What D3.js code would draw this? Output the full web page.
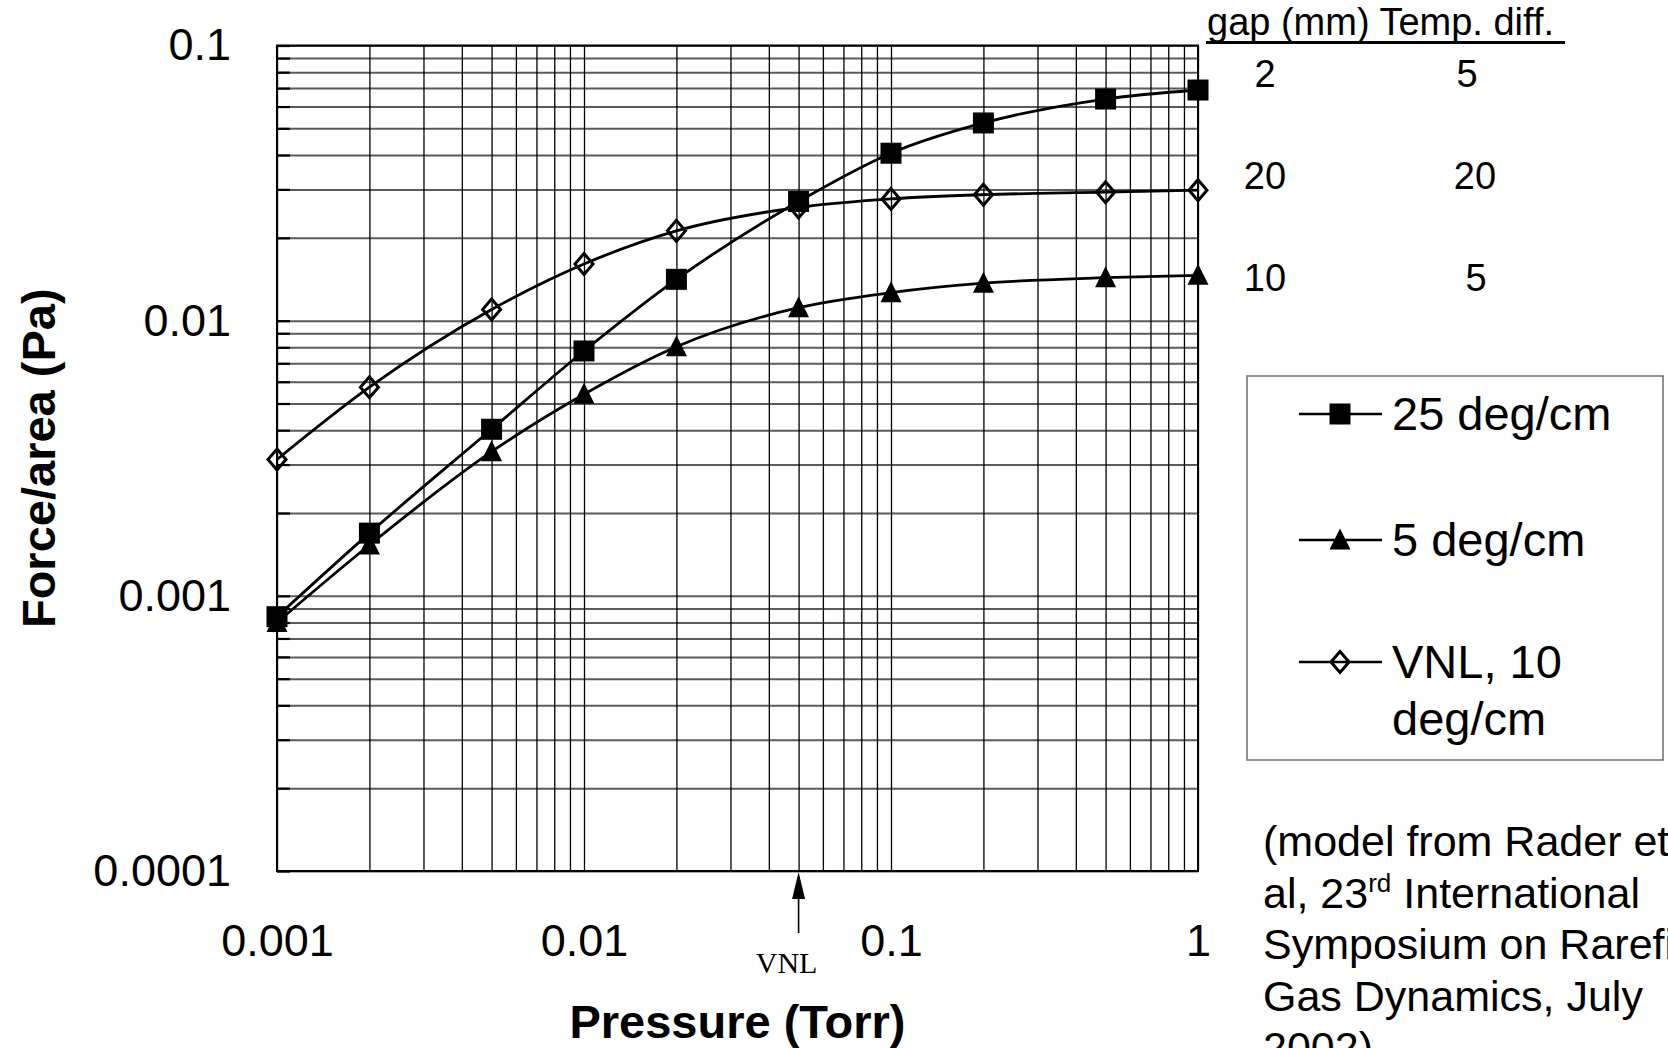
<!DOCTYPE html>
<html>
<head>
<meta charset="utf-8">
<script src="https://cdn.jsdelivr.net/npm/d3@7"></script>
<style>
  html, body { margin: 0; padding: 0; background: #fff; }
  svg { display: block; font-family: "Liberation Sans", Arial, sans-serif; }
</style>
</head>
<body>
<svg id="chart" width="1668" height="1048"></svg>
<script>
// data
var pressures = [0.001, 0.002, 0.005, 0.01, 0.02, 0.05, 0.1, 0.2, 0.5, 1];
var force25 = [0.00084, 0.00169, 0.00403, 0.00776, 0.01413, 0.0271, 0.0406, 0.0523, 0.0639, 0.0689];
var force5 = [0.00080, 0.00153, 0.00334, 0.00540, 0.00804, 0.01115, 0.01264, 0.01368, 0.01433, 0.01462];
var forceVNL = [0.00313, 0.00573, 0.01098, 0.01607, 0.0212, 0.0258, 0.0277, 0.0287, 0.0293, 0.0298];
var seriesNames = ['25 deg/cm', '5 deg/cm', 'VNL, 10|deg/cm'];
var seriesShapes = ['square', 'triangle', 'diamond'];
var xTicks = [0.001, 0.01, 0.1, 1];
var yTicks = [0.0001, 0.001, 0.01, 0.1];
var vnlPressure = 0.05;
var tableHeader = 'gap (mm) Temp. diff.';
var tableGap = ['2', '20', '10'];
var tableTemp = ['5', '20', '5'];
var noteLines = ['(model from Rader et', 'al, 23|rd| International', 'Symposium on Rarefied', 'Gas Dynamics, July', '2002)'];

var svg = d3.select('#chart');
var pLeft = 277, pRight = 1198, pTop = 45.5, pBottom = 871;

var x = d3.scaleLog().domain([0.001, 1]).range([pLeft, pRight]);
var y = d3.scaleLog().domain([0.0001, 0.1]).range([pBottom, pTop]);

// minor values 1..9 per decade
function minors(lo, hi) {
  var out = [];
  for (var e = lo; e < hi; e++) {
    for (var m = 1; m <= 9; m++) out.push(+(m * Math.pow(10, e)).toPrecision(3));
  }
  out.push(+Math.pow(10, hi).toPrecision(3));
  return out;
}

// horizontal grid
svg.append('g')
  .attr('transform', 'translate(' + pLeft + ',0)')
  .call(d3.axisLeft(y).tickValues(minors(-4, -1)).tickSize(-(pRight - pLeft)).tickFormat(''))
  .call(function(g) {
    g.select('.domain').remove();
    g.selectAll('line').attr('stroke', '#5a5a5a').attr('stroke-width', 2);
  });

// vertical grid
svg.append('g')
  .attr('transform', 'translate(0,' + pBottom + ')')
  .call(d3.axisBottom(x).tickValues(minors(-3, 0)).tickSize(-(pBottom - pTop)).tickFormat(''))
  .call(function(g) {
    g.select('.domain').remove();
    g.selectAll('line').attr('stroke', '#000').attr('stroke-width', 1.3);
  });

// small inside tick stubs on the left
svg.append('g')
  .attr('transform', 'translate(' + pLeft + ',0)')
  .call(d3.axisLeft(y).tickValues(minors(-4, -1)).tickSize(-13).tickFormat(''))
  .call(function(g) {
    g.select('.domain').remove();
    g.selectAll('line').attr('stroke', '#000').attr('stroke-width', 2.2);
  });

// frame
svg.append('rect')
  .attr('x', pLeft).attr('y', pTop)
  .attr('width', pRight - pLeft).attr('height', pBottom - pTop)
  .attr('fill', 'none').attr('stroke', '#000').attr('stroke-width', 2);

// tick labels
svg.append('g')
  .attr('transform', 'translate(' + pLeft + ',0)')
  .call(d3.axisLeft(y).tickValues(yTicks).tickSize(0).tickPadding(46).tickFormat(function(d) { return String(d); }))
  .call(function(g) {
    g.select('.domain').remove();
    g.selectAll('text').attr('font-size', 45).attr('fill', '#000').attr('font-family', '"Liberation Sans", Arial, sans-serif');
  });

svg.append('g')
  .attr('transform', 'translate(0,' + pBottom + ')')
  .call(d3.axisBottom(x).tickValues(xTicks).tickSize(0).tickPadding(53).tickFormat(function(d) { return String(d); }))
  .call(function(g) {
    g.select('.domain').remove();
    g.selectAll('text').attr('font-size', 45).attr('fill', '#000').attr('font-family', '"Liberation Sans", Arial, sans-serif');
  });

// axis titles
svg.append('text')
  .attr('x', (pLeft + pRight) / 2).attr('y', 1038)
  .attr('text-anchor', 'middle').attr('font-size', 47).attr('font-weight', 'bold')
  .text('Pressure (Torr)');

svg.append('text')
  .attr('transform', 'translate(55,' + ((pTop + pBottom) / 2) + ') rotate(-90)')
  .attr('text-anchor', 'middle').attr('font-size', 47).attr('font-weight', 'bold')
  .text('Force/area (Pa)');

// series
var allSeries = [force25, force5, forceVNL];
var line = d3.line()
  .x(function(d, i) { return x(pressures[i]); })
  .y(function(d) { return y(d); })
  .curve(d3.curveMonotoneX);

function drawMarker(g, shape, cx, cy) {
  if (shape === 'square') {
    g.append('rect').attr('x', cx - 10.5).attr('y', cy - 10.5).attr('width', 21).attr('height', 21).attr('fill', '#000');
  } else if (shape === 'triangle') {
    g.append('path').attr('d', 'M' + cx + ',' + (cy - 11.5) + 'L' + (cx + 10.5) + ',' + (cy + 9.5) + 'L' + (cx - 10.5) + ',' + (cy + 9.5) + 'Z').attr('fill', '#000');
  } else {
    g.append('path').attr('d', 'M' + cx + ',' + (cy - 10.5) + 'L' + (cx + 9) + ',' + cy + 'L' + cx + ',' + (cy + 10.5) + 'L' + (cx - 9) + ',' + cy + 'Z')
      .attr('fill', 'none').attr('stroke', '#000').attr('stroke-width', 3);
  }
}

allSeries.forEach(function(vals, k) {
  var g = svg.append('g');
  g.append('path').datum(vals).attr('d', line)
    .attr('fill', 'none').attr('stroke', '#000').attr('stroke-width', 2.8);
  vals.forEach(function(v, i) { drawMarker(g, seriesShapes[k], x(pressures[i]), y(v)); });
});

// VNL arrow
var ax = x(vnlPressure);
svg.append('line').attr('x1', ax).attr('x2', ax).attr('y1', pBottom + 20).attr('y2', 933)
  .attr('stroke', '#000').attr('stroke-width', 1.6);
svg.append('path').attr('d', 'M' + ax + ',' + (pBottom + 1) + 'L' + (ax + 6.5) + ',' + (pBottom + 28) + 'L' + (ax - 6.5) + ',' + (pBottom + 28) + 'Z')
  .attr('fill', '#000');
svg.append('text').attr('x', ax - 12).attr('y', 973).attr('text-anchor', 'middle')
  .attr('font-family', '"Liberation Serif", "Times New Roman", serif').attr('font-size', 30)
  .text('VNL');

// gap / temp table
svg.append('text').attr('x', 1207).attr('y', 35).attr('font-size', 38).text(tableHeader);
svg.append('line').attr('x1', 1206).attr('x2', 1565).attr('y1', 42.5).attr('y2', 42.5)
  .attr('stroke', '#000').attr('stroke-width', 3);
var rowY = [87, 189, 291];
var tempX = [1467, 1475, 1476];
tableGap.forEach(function(t, i) {
  svg.append('text').attr('x', 1265).attr('y', rowY[i]).attr('text-anchor', 'middle').attr('font-size', 38).text(t);
  svg.append('text').attr('x', tempX[i]).attr('y', rowY[i]).attr('text-anchor', 'middle').attr('font-size', 38).text(tableTemp[i]);
});

// legend
svg.append('rect').attr('x', 1247).attr('y', 376).attr('width', 416).attr('height', 384)
  .attr('fill', '#fff').attr('stroke', '#777').attr('stroke-width', 1.6);
var legY = [414, 540, 662];
seriesNames.forEach(function(name, k) {
  var g = svg.append('g');
  g.append('line').attr('x1', 1299).attr('x2', 1382).attr('y1', legY[k]).attr('y2', legY[k])
    .attr('stroke', '#000').attr('stroke-width', 2.4);
  drawMarker(g, seriesShapes[k], 1340, legY[k]);
  var parts = name.split('|');
  parts.forEach(function(p, j) {
    g.append('text').attr('x', 1392).attr('y', legY[k] + 16 + j * 57).attr('font-size', 47).text(p);
  });
});

// note
noteLines.forEach(function(l, i) {
  var t = svg.append('text').attr('x', 1263).attr('y', 856 + i * 51.5).attr('font-size', 43);
  var parts = l.split('|');
  if (parts.length === 3) {
    t.append('tspan').text(parts[0]);
    t.append('tspan').attr('font-size', 26).attr('dy', -16).text(parts[1]);
    t.append('tspan').attr('dy', 16).text(parts[2]);
  } else {
    t.text(l);
  }
});
</script>
</body>
</html>
